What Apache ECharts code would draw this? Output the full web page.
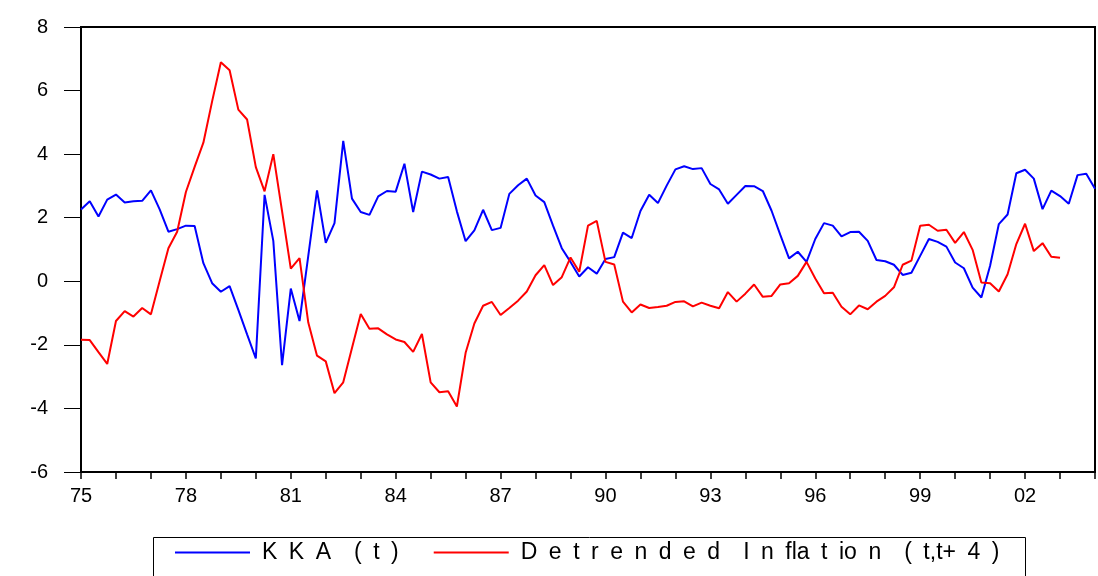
<!DOCTYPE html>
<html>
<head>
<meta charset="utf-8">
<script src="https://cdn.jsdelivr.net/npm/echarts@6/dist/echarts.min.js"></script>
<style>html,body{margin:0;padding:0;background:#fff}#c{width:1098px;height:576px}</style>
</head>
<body>
<div id="c"></div>
<script>
// Quarterly categories 1975Q1 .. 2004Q1
var categories = [];
for (var y = 1975; y <= 2004; y++) {
  for (var q = 1; q <= 4; q++) {
    if (y === 2004 && q > 1) break;
    categories.push(y + 'Q' + q);
  }
}
var S = '\u2002';
var seriesNames = [
  ['K', 'K', 'A', '', '(', 't', ')'].join(S),
  ['D', 'e', 't', 'r', 'e', 'n', 'd', 'e', 'd', '', 'I', 'n', 'fla', 't', 'io', 'n', '', '(', 't,t+', '4', ')'].join(S)
];
var kka = [
  2.26, 2.52, 2.04, 2.57, 2.73, 2.48, 2.52, 2.53, 2.86, 2.26,
  1.56, 1.64, 1.75, 1.74, 0.57, -0.06, -0.33, -0.15, -0.90, -1.67,
  -2.43, 2.72, 1.27, -2.64, -0.23, -1.25, 0.80, 2.86, 1.21, 1.83,
  4.42, 2.60, 2.18, 2.09, 2.67, 2.84, 2.82, 3.70, 2.18, 3.45,
  3.36, 3.23, 3.28, 2.20, 1.26, 1.60, 2.25, 1.61, 1.68, 2.75,
  3.02, 3.23, 2.70, 2.49, 1.75, 1.04, 0.61, 0.15, 0.44, 0.24,
  0.70, 0.76, 1.53, 1.36, 2.21, 2.72, 2.46, 3.01, 3.52, 3.62,
  3.53, 3.56, 3.06, 2.89, 2.44, 2.72, 3.00, 2.99, 2.84, 2.22,
  1.46, 0.72, 0.93, 0.61, 1.33, 1.83, 1.75, 1.41, 1.55, 1.56,
  1.27, 0.67, 0.63, 0.52, 0.20, 0.27, 0.80, 1.33, 1.24, 1.09,
  0.59, 0.41, -0.20, -0.51, 0.49, 1.80, 2.10, 3.40, 3.51, 3.23,
  2.27, 2.85, 2.68, 2.44, 3.34, 3.38, 2.91
];
var inflation = [
  -1.84, -1.85, -2.23, -2.60, -1.25, -0.94, -1.11, -0.84, -1.04, 0.01,
  1.04, 1.56, 2.81, 3.60, 4.36, 5.66, 6.89, 6.64, 5.40, 5.09,
  3.59, 2.83, 4.00, 2.21, 0.40, 0.73, -1.30, -2.34, -2.52, -3.52,
  -3.18, -2.10, -1.03, -1.49, -1.48, -1.67, -1.83, -1.91, -2.22, -1.66,
  -3.18, -3.49, -3.46, -3.94, -2.25, -1.33, -0.77, -0.65, -1.06, -0.84,
  -0.61, -0.32, 0.19, 0.51, -0.12, 0.13, 0.75, 0.30, 1.75, 1.90,
  0.61, 0.53, -0.64, -0.98, -0.73, -0.84, -0.81, -0.77, -0.65, -0.63,
  -0.79, -0.67, -0.77, -0.85, -0.34, -0.64, -0.39, -0.10, -0.49, -0.46,
  -0.10, -0.06, 0.17, 0.61, 0.09, -0.38, -0.36, -0.80, -1.04, -0.76,
  -0.88, -0.64, -0.46, -0.19, 0.52, 0.65, 1.75, 1.78, 1.59, 1.62,
  1.21, 1.55, 0.99, -0.04, -0.06, -0.32, 0.22, 1.17, 1.81, 0.95,
  1.20, 0.77, 0.74, null, null, null, null
];
var yMin = -6, yMax = 8, yStep = 2;

var font = '"Liberation Sans", Arial, sans-serif';
var chart = echarts.init(document.getElementById('c'), null, {renderer: 'canvas'});
chart.setOption({
  animation: false,
  backgroundColor: '#fff',
  grid: {left: 81, right: 3, top: 27, bottom: 104, show: true, borderColor: '#000', borderWidth: 2, backgroundColor: 'transparent'},
  xAxis: {
    type: 'category', data: categories, boundaryGap: false,
    axisLine: {show: true, onZero: false, lineStyle: {color: '#000', width: 2}},
    axisTick: {show: true, length: 7, interval: function (i) { return i % 4 === 0; }, lineStyle: {color: '#000', width: 1.5}},
    axisLabel: {interval: function (i) { return i % 12 === 0; }, formatter: function (v) { return v.slice(2, 4); },
      color: '#000', fontSize: 20, fontFamily: font, margin: 14},
    splitLine: {show: false}
  },
  yAxis: {
    type: 'value', min: yMin, max: yMax, interval: yStep,
    axisLine: {show: true, lineStyle: {color: '#000', width: 2}},
    axisTick: {show: true, length: 17, lineStyle: {color: '#000', width: 1}},
    axisLabel: {color: '#000', fontSize: 20, fontFamily: font, margin: 33},
    splitLine: {show: false}
  },
  legend: {
    data: seriesNames, left: 170, top: 536, icon: 'rect', itemWidth: 75, itemHeight: 2, itemGap: 35,
    textStyle: {color: '#000', fontSize: 23, fontFamily: font, padding: [0, 0, 0, 7]}
  },
  graphic: [{type: 'rect', shape: {x: 153.5, y: 537.5, width: 872, height: 60}, style: {fill: 'none', stroke: '#000', lineWidth: 1}, silent: true}],
  series: [
    {name: seriesNames[0], type: 'line', data: kka, symbol: 'none', lineStyle: {color: '#0000ff', width: 2}, itemStyle: {color: '#0000ff'}},
    {name: seriesNames[1], type: 'line', data: inflation, symbol: 'none', lineStyle: {color: '#ff0000', width: 2}, itemStyle: {color: '#ff0000'}}
  ]
});
</script>
</body>
</html>
